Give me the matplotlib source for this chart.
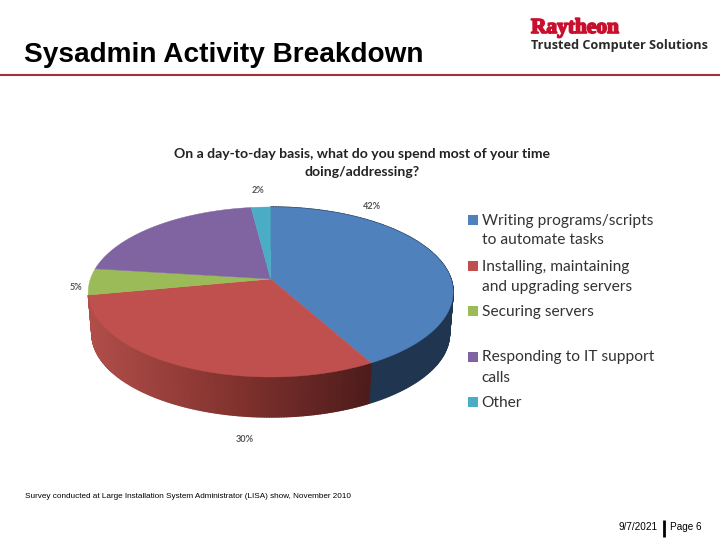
import numpy as np
import matplotlib
matplotlib.use('Agg')
import matplotlib.pyplot as plt
import matplotlib.patheffects as pe
from matplotlib.collections import PolyCollection
from matplotlib.colors import LinearSegmentedColormap

categories = ['Writing programs/scripts\nto automate tasks',
              'Installing, maintaining\nand upgrading servers',
              'Securing servers',
              'Responding to IT support\ncalls',
              'Other']
values = [42, 30, 5, 21, 2]
percent_labels = ['42%', '30%', '5%', '', '2%']
colors = ['#4F81BD', '#C0504D', '#9BBB59', '#8064A2', '#4BACC6']

# the pie is a circle seen in perspective, everything in pixels of the 720x540 slide
CX, CY = 270.7, 279.0
A, B, K = 180.3, 83.0, 0.153
SHRINK, CY_LOW = 0.98, 321.0


def project(theta, low=False):
    u, v = np.sin(theta), np.cos(theta)
    w = 1 + K * v
    if low:
        return CX + SHRINK * A * u / w, CY_LOW - SHRINK * B * v / w
    return CX + A * u / w, CY - B * v / w


fig = plt.figure(figsize=(7.2, 5.4), dpi=100)
ax = fig.add_axes([0, 0, 1, 1])
ax.set_xlim(0, 720)
ax.set_ylim(540, 0)
ax.axis('off')

edges = np.cumsum([0] + values) / sum(values) * 2 * np.pi

# side wall, gradient on the red one, flat navy on the blue one
red_side = LinearSegmentedColormap.from_list('red_side', ['#B04D49', '#84332F', '#4E1C1B'])
for i in [0, 1]:
    th = np.linspace(edges[i], edges[i + 1], 160)
    polys, cols = [], []
    for t0, t1 in zip(th[:-1], th[1:]):
        x0, y0 = project(t0)
        x1, y1 = project(t1)
        x2, y2 = project(t1, low=True)
        x3, y3 = project(t0, low=True)
        polys.append([(x0, y0), (x1, y1), (x2, y2), (x3, y3)])
        if i == 0:
            cols.append('#1F3550')
        else:
            cols.append(red_side(np.clip((x0 - 90) / 280, 0, 1)))
    ax.add_collection(PolyCollection(polys, facecolors=cols, edgecolors=cols, linewidths=1.0))

# top face
for i in range(len(values)):
    th = np.linspace(edges[i], edges[i + 1], 120)
    x, y = project(th)
    ax.fill(np.r_[CX, x], np.r_[CY, y], color=colors[i], lw=0.3)

# slice labels
label_pos = [(372.5, 206.5), (245, 440), (75.5, 288), None, (258.5, 190.5)]
for txt, pos in zip(percent_labels, label_pos):
    if txt:
        ax.text(pos[0], pos[1], txt, fontsize=6.6, fontweight='bold', color='#555555',
                family='Lato', ha='center', va='center')

ax.text(362.5, 154.5, 'On a day-to-day basis, what do you spend most of your time',
        fontsize=10.05, fontweight='bold', family='Lato', color='#222222',
        ha='center', va='center')
ax.text(362.5, 172.5, 'doing/addressing?', fontsize=10.05, fontweight='bold', family='Lato',
        color='#222222', ha='center', va='center')

# legend
legend_y = [219.5, 265.5, 311, 356.5, 402]
for cat, col, ly in zip(categories, colors, legend_y):
    ax.scatter([473], [ly], marker='s', s=46, color=col, linewidths=0)
    for n, line in enumerate(cat.split('\n')):
        ax.text(481.5, ly + 5 + 20 * n, line, fontsize=11.2, family='Lato', color='#333333',
                ha='left', va='baseline')

# slide furniture
ax.text(24, 55.5, 'Sysadmin Activity Breakdown', fontsize=20.2, fontweight='bold',
        family='Liberation Sans', color='black', ha='left', va='center')
ax.plot([0, 720], [74.5, 74.5], color='#A5323A', lw=1.5, solid_capstyle='butt')
ax.text(531, 28, 'Raytheon', fontsize=15.4, fontweight='bold', family='Liberation Serif',
        color='#C8102E', ha='left', va='center',
        path_effects=[pe.withStroke(linewidth=1.2, foreground='#C8102E')])
ax.text(531, 46, 'Trusted Computer Solutions', fontsize=9.05, fontweight='bold',
        family='Open Sans', color='#2A2A2A', ha='left', va='center')

ax.text(25, 497, 'Survey conducted at Large Installation System Administrator (LISA) show, November 2010',
        fontsize=5.83, family='Liberation Sans', color='black', ha='left', va='center')
ax.text(658, 527.5, '9/7/2021', fontsize=7.2, family='Liberation Sans', color='black', ha='right', va='center')
ax.plot([664, 664], [520, 537], color='black', lw=2, solid_capstyle='butt')
ax.text(670, 527.5, 'Page 6', fontsize=7.2, family='Liberation Sans', color='black', ha='left', va='center')

fig.savefig('out.png', dpi=100)
